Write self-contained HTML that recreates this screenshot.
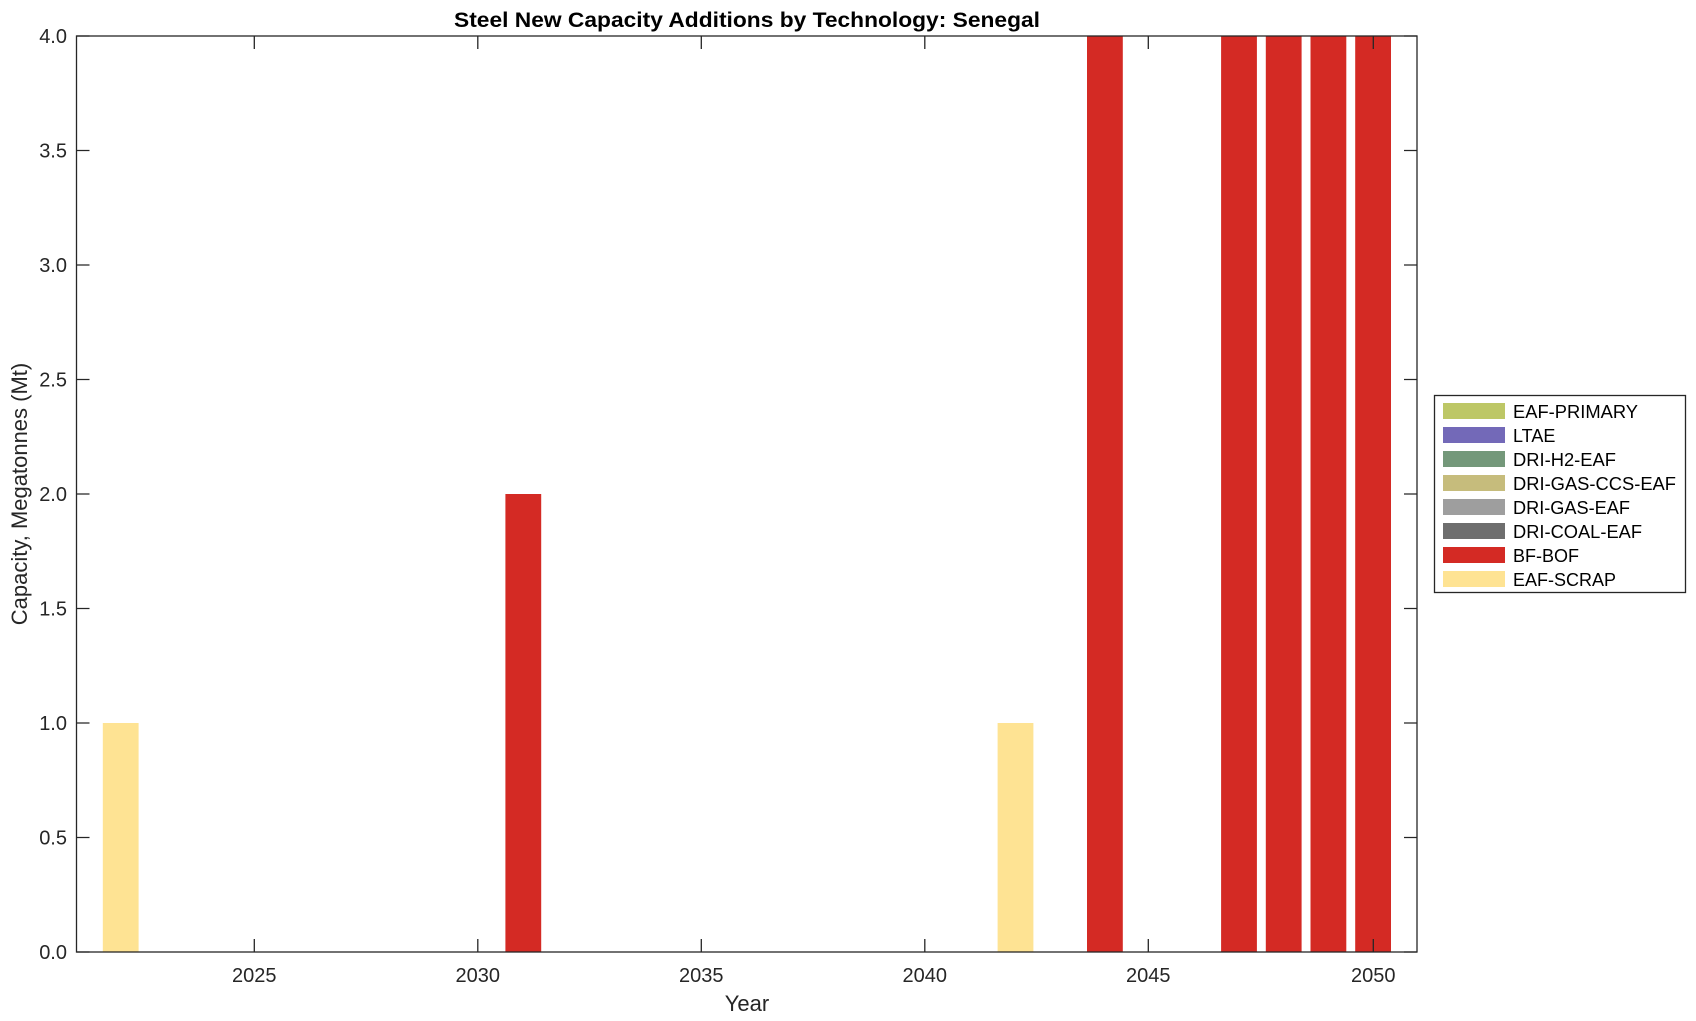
<!DOCTYPE html>
<html><head><meta charset="utf-8"><style>html,body{margin:0;padding:0;background:#fff}svg{display:block}</style></head><body>
<svg width="1696" height="1021" xmlns="http://www.w3.org/2000/svg" font-family="Liberation Sans, Arial, sans-serif">
<rect width="1696" height="1021" fill="#fff"/>
<g fill="#d42a24">
<rect x="505.4" y="494" width="35.8" height="458"/>
<rect x="1087" y="36" width="35.8" height="916"/>
<rect x="1221.1" y="36" width="35.8" height="916"/>
<rect x="1265.8" y="36" width="35.8" height="916"/>
<rect x="1310.5" y="36" width="35.8" height="916"/>
<rect x="1355.2" y="36" width="35.8" height="916"/>
</g>
<g fill="#fee393">
<rect x="102.8" y="723" width="35.8" height="229"/>
<rect x="997.6" y="723" width="35.8" height="229"/>
</g>
<g stroke="#262626" stroke-width="1.3" fill="none">
<rect x="76.5" y="36" width="1340.5" height="916"/>
<path d="M254.3 952v-13M254.3 36v13M477.8 952v-13M477.8 36v13M701.3 952v-13M701.3 36v13M924.8 952v-13M924.8 36v13M1148.3 952v-13M1148.3 36v13M1373.3 952v-13M1373.3 36v13"/>
<path d="M76.5 952h13M76.5 837.5h13M76.5 723h13M76.5 608.5h13M76.5 494h13M76.5 379.5h13M76.5 265h13M76.5 150.5h13M76.5 36h13M1417 952h-13M1417 837.5h-13M1417 723h-13M1417 608.5h-13M1417 494h-13M1417 379.5h-13M1417 265h-13M1417 150.5h-13M1417 36h-13"/>
</g>
<g fill="#262626" font-size="20" text-anchor="end">
<text x="67" y="959">0.0</text><text x="67" y="844.5">0.5</text><text x="67" y="730">1.0</text><text x="67" y="615.5">1.5</text><text x="67" y="501">2.0</text><text x="67" y="386.5">2.5</text><text x="67" y="272">3.0</text><text x="67" y="157.5">3.5</text><text x="67" y="43">4.0</text>
</g>
<g fill="#262626" font-size="20" text-anchor="middle">
<text x="254.3" y="982">2025</text><text x="477.8" y="982">2030</text><text x="701.3" y="982">2035</text><text x="924.8" y="982">2040</text><text x="1148.3" y="982">2045</text><text x="1373.3" y="982">2050</text>
<text x="747" y="1011" font-size="22">Year</text>
<text transform="translate(27 494) rotate(-90)" font-size="22">Capacity, Megatonnes (Mt)</text>
<text x="747" y="27" font-size="21" font-weight="bold" fill="#000" textLength="586" lengthAdjust="spacingAndGlyphs">Steel New Capacity Additions by Technology: Senegal</text>
</g>
<rect x="1434.5" y="395.5" width="251" height="197" fill="#fff" stroke="#262626" stroke-width="1.3"/>
<g>
<rect x="1443" y="403" width="62" height="16" fill="#bdc766"/>
<rect x="1443" y="427" width="62" height="16" fill="#7369b8"/>
<rect x="1443" y="451" width="62" height="16" fill="#74987a"/>
<rect x="1443" y="475" width="62" height="16" fill="#c6bc7c"/>
<rect x="1443" y="499" width="62" height="16" fill="#9e9e9e"/>
<rect x="1443" y="523" width="62" height="16" fill="#6e6e6e"/>
<rect x="1443" y="547" width="62" height="16" fill="#d42a24"/>
<rect x="1443" y="571" width="62" height="16" fill="#fee393"/>
</g>
<g fill="#000" font-size="18">
<text x="1513" y="418" textLength="125" lengthAdjust="spacingAndGlyphs">EAF-PRIMARY</text>
<text x="1513" y="442">LTAE</text>
<text x="1513" y="466" textLength="103" lengthAdjust="spacingAndGlyphs">DRI-H2-EAF</text>
<text x="1513" y="490" textLength="163" lengthAdjust="spacingAndGlyphs">DRI-GAS-CCS-EAF</text>
<text x="1513" y="514" textLength="117" lengthAdjust="spacingAndGlyphs">DRI-GAS-EAF</text>
<text x="1513" y="538" textLength="129" lengthAdjust="spacingAndGlyphs">DRI-COAL-EAF</text>
<text x="1513" y="562">BF-BOF</text>
<text x="1513" y="586" textLength="103" lengthAdjust="spacingAndGlyphs">EAF-SCRAP</text>
</g>
</svg>
</body></html>
